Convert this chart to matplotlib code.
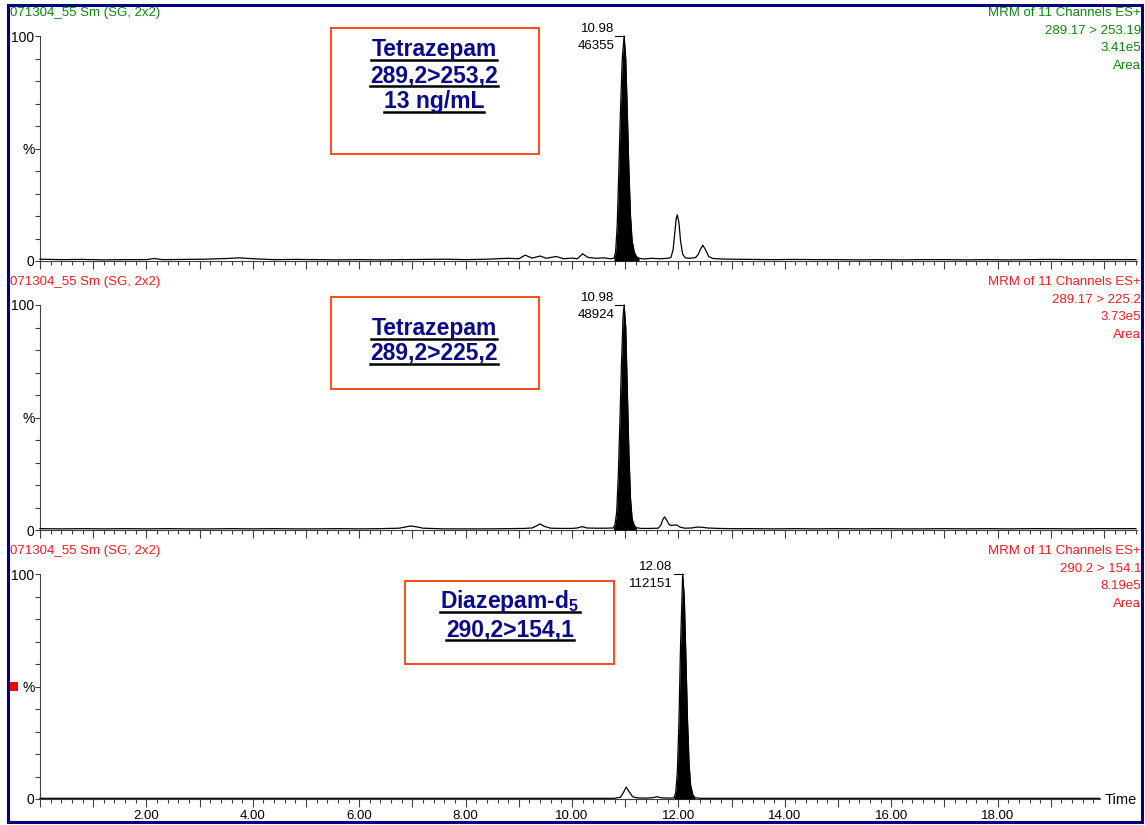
import numpy as np
import matplotlib
matplotlib.use("Agg")
import matplotlib.pyplot as plt
from matplotlib.patches import Rectangle
from matplotlib.lines import Line2D
from matplotlib.ticker import MultipleLocator, FuncFormatter

plt.rcParams['font.family'] = ['Liberation Sans', 'DejaVu Sans']
plt.rcParams['mathtext.fontset'] = 'custom'
plt.rcParams['mathtext.rm'] = 'Liberation Sans'
plt.rcParams['mathtext.bf'] = 'Liberation Sans:bold'
plt.rcParams['mathtext.default'] = 'bf'

# ---------------- data ----------------
HEADER_LEFT = "071304_55 Sm (SG, 2x2)"
HEADER_RIGHT = [
    ["MRM of 11 Channels ES+", "289.17 > 253.19", "3.41e5", "Area"],
    ["MRM of 11 Channels ES+", "289.17 > 225.2", "3.73e5", "Area"],
    ["MRM of 11 Channels ES+", "290.2 > 154.1", "8.19e5", "Area"],
]
HEADER_COLORS = ["#0a8a0a", "#ff1a1a", "#ff1a1a"]
BOX_LINES = [
    ["Tetrazepam", "289,2>253,2", "13 ng/mL"],
    ["Tetrazepam", "289,2>225,2"],
    ["Diazepam-d$_{5}$", "290,2>154,1"],
]
PEAK_RT = [10.98, 10.98, 12.08]
PEAK_AREA = ["46355", "48924", "112151"]
PEAK_RT_LABEL = ["10.98", "10.98", "12.08"]

P1_TRACE = [(0.00,0.8),(0.40,0.6),(0.80,0.7),(1.20,0.5),(1.60,0.6),(2.00,0.6),(2.15,1.1),(2.30,0.6),
            (2.70,0.7),(3.10,0.8),(3.50,1.1),(3.75,1.4),(4.00,1.0),(4.40,0.6),(4.80,0.7),(5.20,0.6),
            (5.60,0.5),(6.00,0.6),(6.40,0.5),(6.80,0.6),(7.20,0.7),(7.60,0.8),(8.00,0.6),(8.40,0.8),
            (8.80,1.2),(9.00,1.0),(9.12,2.6),(9.25,1.3),(9.40,2.2),(9.52,1.2),(9.70,2.0),(9.85,1.0),
            (10.00,1.3),(10.10,1.0),(10.20,3.2),(10.30,1.6),(10.45,1.2),(10.60,1.4),(10.72,1.0),
            (10.79,1.2),(10.82,4),(10.85,16),(10.88,40),(10.91,66),(10.945,90),(10.98,100),(11.01,90),
            (11.04,66),(11.07,40),(11.10,20),(11.13,9),(11.17,4),(11.21,2),(11.26,1.2),
            (11.35,0.9),(11.50,1.2),(11.65,1.0),(11.80,1.2),(11.86,1.6),(11.90,5),(11.93,12),(11.96,19),
            (11.98,20.5),(12.01,17),(12.04,9),(12.08,3),(12.13,1.4),(12.22,1.2),(12.32,1.5),(12.37,2.8),
            (12.42,5.5),(12.46,7),(12.51,5),(12.57,2),(12.65,1.1),(12.80,0.9),(13.00,0.8),(13.40,0.7),
            (13.80,0.6),(14.20,0.7),(14.60,0.6),(15.00,0.6),(15.40,0.5),(15.80,0.6),(16.20,0.5),(16.60,0.6),
            (17.00,0.6),(17.40,0.5),(17.80,0.6),(18.20,0.5),(18.60,0.6),(19.00,0.7),(19.40,0.6),(19.80,0.6),
            (20.20,0.6),(20.60,0.6)]
P2_TRACE = [(0.00,0.6),(0.40,0.5),(0.80,0.6),(1.20,0.5),(1.60,0.6),(2.00,0.5),(2.40,0.6),(2.80,0.5),
            (3.20,0.5),(3.60,0.6),(4.00,0.5),(4.40,0.6),(4.80,0.5),(5.20,0.5),(5.60,0.6),(6.00,0.5),
            (6.40,0.6),(6.75,0.8),(6.88,1.4),(6.97,1.8),(7.08,1.4),(7.20,0.8),(7.60,0.5),(8.00,0.5),
            (8.40,0.5),(8.80,0.6),(9.10,0.7),(9.25,0.9),(9.33,1.8),(9.40,2.7),(9.48,1.6),(9.60,0.8),
            (9.80,0.7),(10.00,0.7),(10.10,0.9),(10.19,1.5),(10.28,0.9),(10.45,0.8),(10.65,0.8),
            (10.78,0.9),(10.81,2.5),(10.84,8),(10.87,24),(10.90,48),(10.93,74),(10.96,95),(10.98,100),
            (11.01,90),(11.04,62),(11.07,34),(11.10,14),(11.13,5),(11.17,2),(11.21,1.0),
            (11.30,0.7),(11.45,0.7),(11.62,0.8),(11.67,2.2),(11.71,4.8),(11.74,5.8),(11.78,4.4),(11.82,2.6),
            (11.86,2.0),(11.92,2.2),(11.97,2.2),(12.03,1.3),(12.12,0.8),(12.25,0.9),(12.35,1.3),(12.45,1.2),
            (12.55,0.9),(12.75,0.7),(13.00,0.6),(13.40,0.6),(13.80,0.5),(14.20,0.6),(14.60,0.5),(15.00,0.6),
            (15.40,0.5),(15.80,0.6),(16.20,0.5),(16.60,0.5),(17.00,0.6),(17.40,0.5),(17.80,0.6),(18.20,0.5),
            (18.60,0.6),(19.00,0.6),(19.40,0.5),(19.80,0.6),(20.20,0.6),(20.60,0.6)]
P3_TRACE = [(0.00,0.3),(1.00,0.3),(2.00,0.3),(3.00,0.3),(4.00,0.3),(5.00,0.3),(6.00,0.3),(7.00,0.3),
            (8.00,0.3),(9.00,0.3),(10.00,0.3),(10.80,0.3),(10.91,0.8),(10.96,2.6),(11.02,5.3),(11.08,3.0),
            (11.14,1.0),(11.22,0.5),(11.40,0.4),(11.52,0.6),(11.60,1.0),(11.68,0.5),(11.85,0.4),
            (11.92,0.5),(11.95,3),(11.98,12),(12.01,34),(12.04,68),(12.08,100),(12.11,90),(12.14,64),
            (12.17,36),(12.20,16),(12.23,6),(12.27,2),(12.31,0.6),
            (12.40,0.3),(13.00,0.3),(14.00,0.3),(15.00,0.3),(16.00,0.3),(17.00,0.3),(18.00,0.3),
            (19.00,0.3),(19.92,0.3)]
TRACES = [P1_TRACE, P2_TRACE, P3_TRACE]
FILL_RANGES = [(10.79, 11.26), (10.78, 11.21), (11.92, 12.31)]
X_MAX = [20.62, 20.62, 19.92]
Y_TICKS = [0, 10, 20, 30, 40, 50, 60, 70, 80, 90, 100]
Y_TICK_LABELS = ["0", "", "", "", "", "%", "", "", "", "", "100"]

# ---------------- layout (pixels) ----------------
W, H = 1145, 825
fig = plt.figure(figsize=(W / 100, H / 100), dpi=100)
fig.patch.set_facecolor('white')

def fx(px):
    return px / W

def fy(py):
    return 1 - py / H

PANEL_TOP = [36, 305, 574]
PANEL_H = 225
AX_LEFT = 40
PX_PER_MIN = 53.2
BOXES = [(331, 28, 539, 154), (331, 297, 539, 389), (405, 581, 614, 664)]
BOX_CX = [434, 434, 510]
BOX_BASELINES = [[56, 82, 108], [335, 360], [608, 636]]

SPINE = '#404040'
underline_texts = []

for i in range(3):
    top = PANEL_TOP[i]
    bottom = top + PANEL_H
    width_px = X_MAX[i] * PX_PER_MIN
    ax = fig.add_axes([fx(AX_LEFT), fy(bottom), width_px / W, PANEL_H / H])
    t = np.array([p[0] for p in TRACES[i]])
    y = np.array([p[1] for p in TRACES[i]])
    ax.plot(t, y, color='black', lw=0.9, clip_on=False, zorder=3)
    a, b = FILL_RANGES[i]
    m = (t >= a) & (t <= b)
    ax.fill_between(t[m], 0, y[m], color='black', lw=0, zorder=3)
    ax.set_xlim(0, X_MAX[i])
    ax.set_ylim(0, 100)
    for s in ['top', 'right']:
        ax.spines[s].set_visible(False)
    for s in ['left', 'bottom']:
        ax.spines[s].set_color(SPINE)
        ax.spines[s].set_linewidth(0.8)
    ax.xaxis.set_major_locator(MultipleLocator(1))
    ax.xaxis.set_minor_locator(MultipleLocator(0.2))
    if i == 2:
        ax.xaxis.set_major_formatter(FuncFormatter(
            lambda v, p: f"{v:.2f}" if (v > 0 and abs(v / 2 - round(v / 2)) < 1e-6) else ""))
    else:
        ax.xaxis.set_major_formatter(FuncFormatter(lambda v, p: ""))
    ax.tick_params(axis='x', which='major', length=6, width=0.8, color=SPINE,
                   labelsize=9.5, pad=2, labelcolor='black')
    ax.tick_params(axis='x', which='minor', length=3, width=0.8, color=SPINE)
    ax.set_yticks(Y_TICKS)
    ax.set_yticklabels(Y_TICK_LABELS)
    ax.tick_params(axis='y', which='major', length=3.5, width=0.8, color=SPINE,
                   labelsize=10, pad=0.5, labelcolor='black')
    ax.set_facecolor('none')

    # peak annotation
    rt = PEAK_RT[i]
    ax.plot([rt - 0.17, rt], [100, 100], color='black', lw=0.8, clip_on=False)
    ax.annotate(PEAK_RT_LABEL[i], xy=(rt, 100), xytext=(-10, 7), textcoords='offset pixels',
                ha='right', va='center', fontsize=9.5)
    ax.annotate(PEAK_AREA[i], xy=(rt, 100), xytext=(-10, -10), textcoords='offset pixels',
                ha='right', va='center', fontsize=9.5)

    # headers
    c = HEADER_COLORS[i]
    fig.text(fx(10), fy(top - 23), HEADER_LEFT, color=c, fontsize=9.5, ha='left', va='center')
    for k, s in enumerate(HEADER_RIGHT[i]):
        fig.text(fx(1141), fy(top - 23 + k * 17.7), s, color=c, fontsize=9.5,
                 ha='right', va='center')

    # annotation box
    x0, y0, x1, y1 = BOXES[i]
    fig.add_artist(Rectangle((fx(x0), fy(y1)), (x1 - x0) / W, (y1 - y0) / H,
                             transform=fig.transFigure, fill=False,
                             edgecolor='#ff4a1a', lw=1.4))
    for s, bl in zip(BOX_LINES[i], BOX_BASELINES[i]):
        tx = fig.text(fx(BOX_CX[i]), fy(bl), s, color='#0a0a8c', fontsize=16.5,
                      fontweight='bold', ha='center', va='baseline')
        underline_texts.append((tx, bl))

# red marker in third panel
fig.add_artist(Rectangle((fx(10), fy(691)), 8 / W, 9 / H, transform=fig.transFigure,
                         facecolor='#ff0000', edgecolor='none'))
# Time label
fig.text(fx(1105), fy(800), "Time", fontsize=10.5, ha='left', va='center')

# outer navy frame
fig.add_artist(Rectangle((fx(8), fy(822)), (1142 - 8) / W, (822 - 5) / H,
                         transform=fig.transFigure, fill=False, edgecolor='#000080', lw=2.2))

# underlines under box texts
fig.canvas.draw()
renderer = fig.canvas.get_renderer()
for tx, bl in underline_texts:
    bb = tx.get_window_extent(renderer)
    yy = fy(bl + 3.5)
    fig.add_artist(Line2D([bb.x0 / W, bb.x1 / W], [yy, yy], transform=fig.transFigure,
                          color='black', lw=1.8))

fig.savefig("out.png", dpi=100)
